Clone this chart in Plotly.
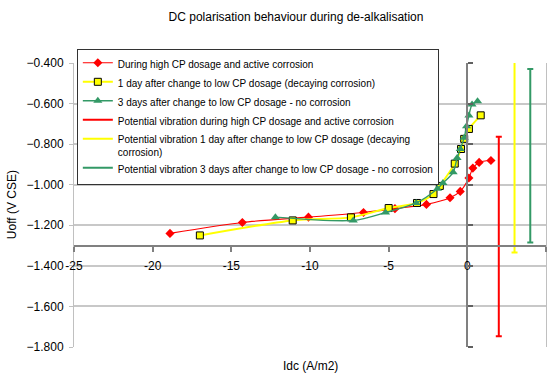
import plotly.graph_objects as go

# Polarisation curves: DC current density (A/m2) vs. instant-off potential (V CSE)
high_cp_idc = [-18.9, -14.3, -10.1, -6.6, -4.6, -2.6, -1.1, -0.45, 0.1, 0.35, 0.75, 1.5]
high_cp_uoff = [-1.240, -1.186, -1.160, -1.137, -1.118, -1.097, -1.064, -1.033, -0.967, -0.918, -0.890, -0.881]

day1_idc = [-17.0, -11.1, -7.4, -5.0, -3.2, -2.15, -1.75, -0.8, -0.4, -0.2, 0.1, 0.85]
day1_uoff = [-1.250, -1.176, -1.161, -1.115, -1.090, -1.046, -1.006, -0.896, -0.824, -0.774, -0.725, -0.658]

day3_idc = [-12.2, -7.25, -5.2, -3.25, -1.9, -1.55, -0.9, -0.65, -0.45, -0.2, -0.05, 0.1, 0.3, 0.65]
day3_uoff = [-1.160, -1.176, -1.137, -1.090, -1.020, -0.992, -0.939, -0.868, -0.824, -0.769, -0.712, -0.659, -0.605, -0.589]

# Potential vibration ranges (min / max potential) shown as bars
vib_names = [
    "Potential vibration during high CP dosage and active corrosion",
    "Potential vibration 1 day after change to low CP dosage (decaying<br>corrosion)",
    "Potential vibration 3 days after change to low CP dosage - no corrosion",
]
vib_idc = [2, 3, 4]
vib_low = [-1.747, -1.334, -1.285]
vib_high = [-0.763, -0.37, -0.429]
vib_colors = ["#FF0000", "#FFFF00", "#339966"]

y_ticks = [-0.4, -0.6, -0.8, -1.0, -1.2, -1.4, -1.6, -1.8]
x_ticks = [-25, -20, -15, -10, -5, 0, 5]

X_RANGE = [-25, 5]
Y_RANGE = [-1.8, -0.4]
X_AXIS_CROSS = -1.3

fig = go.Figure()

fig.add_trace(go.Scatter(
    x=high_cp_idc, y=high_cp_uoff, mode="lines+markers",
    name="During high CP dosage and active corrosion",
    line=dict(color="#FF0000", width=1.1, shape="spline", smoothing=0.8),
    marker=dict(symbol="diamond", size=7, color="#FF0000"),
))
fig.add_trace(go.Scatter(
    x=day1_idc, y=day1_uoff, mode="lines+markers",
    name="1 day after change to low CP dosage (decaying corrosion)",
    line=dict(color="#FFFF00", width=2, shape="spline", smoothing=0.8),
    marker=dict(symbol="square", size=7, color="#FFFF00",
                line=dict(color="#000000", width=1)),
))
fig.add_trace(go.Scatter(
    x=day3_idc, y=day3_uoff, mode="lines+markers",
    name="3 days after change to low CP dosage - no corrosion",
    line=dict(color="#339966", width=1.4, shape="spline", smoothing=0.8),
    marker=dict(symbol="triangle-up", size=8, color="#339966"),
))

for name, xv, lo, hi, col in zip(vib_names, vib_idc, vib_low, vib_high, vib_colors):
    mid = (lo + hi) / 2
    half = (hi - lo) / 2
    fig.add_trace(go.Scatter(
        x=[xv], y=[mid], mode="lines", name=name,
        line=dict(color=col, width=2),
        error_y=dict(type="data", array=[half], symmetric=True,
                     color=col, thickness=2, width=3),
        yaxis="y2",
    ))

fig.update_layout(
    width=547, height=374,
    margin=dict(l=74, r=1, t=63, b=27),
    paper_bgcolor="white", plot_bgcolor="white",
    font=dict(family="Liberation Sans, Arial, sans-serif", size=12, color="#000000"),
    showlegend=True,
    legend=dict(
        x=0.006, y=1.05, xanchor="left", yanchor="top",
        bgcolor="white", bordercolor="#333333", borderwidth=1,
        font=dict(size=10), tracegroupgap=0, valign="top",
    ),
    xaxis=dict(
        range=X_RANGE, tickvals=x_ticks, ticktext=[str(t) for t in x_ticks],
        anchor="free",
        position=(X_AXIS_CROSS - Y_RANGE[0]) / (Y_RANGE[1] - Y_RANGE[0]),
        showline=True, linecolor="#808080", linewidth=2,
        ticks="outside", ticklen=5, tickcolor="#808080", tickwidth=1.5,
        showgrid=False, zeroline=False, ticklabelstandoff=4,
    ),
    yaxis=dict(
        range=Y_RANGE, tickvals=y_ticks, tickformat=".3f",
        showline=True, linecolor="#c0c0c0", linewidth=1, mirror=True,
        ticks="outside", ticklen=4, tickcolor="#c0c0c0",
        showgrid=True, gridcolor="#c8c8c8", gridwidth=1.5,
        zeroline=False, ticklabelstandoff=3,
    ),
    yaxis2=dict(
        range=Y_RANGE, tickvals=y_ticks, overlaying="y",
        anchor="free", side="right",
        position=(0 - X_RANGE[0]) / (X_RANGE[1] - X_RANGE[0]),
        showline=True, linecolor="#808080", linewidth=2,
        ticks="outside", ticklen=5, tickcolor="#606060", tickwidth=1.5,
        showticklabels=False, showgrid=False, zeroline=False,
    ),
    title=dict(
        text="DC polarisation behaviour during de-alkalisation",
        x=296 / 547, xref="container", xanchor="center",
        y=1 - 17 / 374, yref="container", yanchor="middle",
        font=dict(size=12),
    ),
    annotations=[
        dict(text="Uoff (V CSE)", textangle=-90, showarrow=False,
             xref="paper", yref="paper", x=-0.131, y=0.5,
             xanchor="center", yanchor="middle", font=dict(size=12)),
        dict(text="Idc (A/m2)", showarrow=False,
             xref="paper", yref="paper", x=0.5, y=-0.067,
             xanchor="center", yanchor="middle", font=dict(size=12)),
    ],
)

fig.write_html("out.html")
